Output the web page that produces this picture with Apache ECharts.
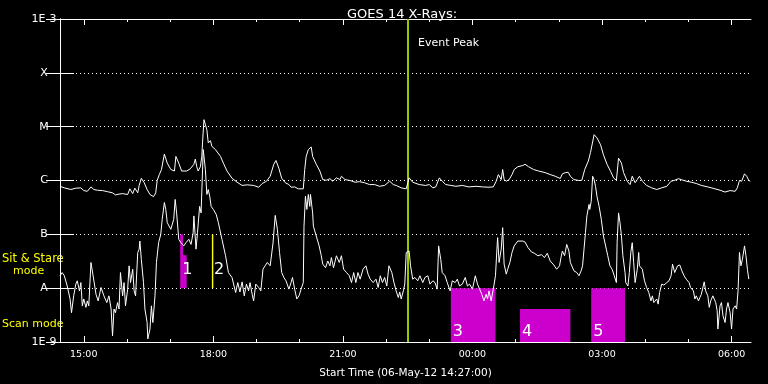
<!DOCTYPE html>
<html><head><meta charset="utf-8">
<script src="https://cdn.jsdelivr.net/npm/echarts@6/dist/echarts.min.js"></script>
<style>html,body{margin:0;padding:0;background:#000;}#c{width:768px;height:384px;}</style>
</head><body><div id="c"></div>
<script>
// ---------- data ----------
const startTime = '14:27';
const titleText = 'GOES 14 X-Rays:';
const axisName = 'Start Time (06-May-12 14:27:00)';
const hourTicks = ['15:00','16:00','17:00','18:00','19:00','20:00','21:00','22:00','23:00','00:00','01:00','02:00','03:00','04:00','05:00','06:00'];
const hourLabels = ['15:00','18:00','21:00','00:00','03:00','06:00'];
const levelValues = [1e-9,1e-8,1e-7,1e-6,1e-5,1e-4,1e-3];
const levelLabels = ['1E-9','A','B','C','M','X','1E-3'];

// GOES long channel (1-8 A)
const longTimes = ['14:27','14:33','14:42','14:49','14:56','15:00','15:05','15:10','15:14','15:19','15:26','15:33','15:40','15:44','15:49','15:54','15:56','16:01','16:04','16:08','16:11','16:15','16:17','16:20','16:24','16:28','16:32','16:37','16:40','16:42','16:45','16:48','16:52','16:56','17:01','17:06','17:08','17:12','17:16','17:23','17:28','17:33','17:35','17:37','17:39','17:42','17:44','17:45','17:47','17:51','17:53','17:56','17:58','18:03','18:10','18:14','18:19','18:26','18:33','18:40','18:47','18:56','19:03','19:08','19:14','19:19','19:24','19:27','19:31','19:35','19:40','19:45','19:48','19:53','19:58','20:05','20:07','20:09','20:12','20:14','20:16','20:18','20:23','20:28','20:32','20:37','20:42','20:46','20:51','20:56','20:58','21:03','21:10','21:17','21:23','21:30','21:37','21:44','21:51','21:58','22:05','22:10','22:14','22:21','22:28','22:32','22:37','22:46','22:55','23:00','23:05','23:09','23:14','23:18','23:23','23:30','23:37','23:46','23:55','00:05','00:14','00:23','00:29','00:33','00:36','00:40','00:42','00:44','00:47','00:51','00:55','00:58','01:03','01:10','01:13','01:18','01:25','01:32','01:41','01:48','01:55','02:02','02:05','02:09','02:13','02:16','02:21','02:28','02:32','02:36','02:41','02:44','02:46','02:49','02:53','02:58','03:02','03:07','03:12','03:16','03:20','03:23','03:27','03:30','03:35','03:39','03:42','03:46','03:49','03:52','03:56','04:02','04:09','04:16','04:23','04:30','04:36','04:41','04:46','04:50','04:57','05:04','05:11','05:18','05:27','05:37','05:44','05:51','05:58','06:05','06:08','06:11','06:14','06:18','06:21','06:24','06:26'];
const longFlux = [7.8e-7,7.3e-7,6.8e-7,7.2e-7,7.3e-7,6.5e-7,6.3e-7,7.6e-7,6.8e-7,6.6e-7,6.5e-7,6.2e-7,5.9e-7,5.4e-7,5.6e-7,5.7e-7,5.4e-7,5.5e-7,7.0e-7,5.7e-7,7.2e-7,5.9e-7,8.1e-7,1.1e-6,9.1e-7,6.8e-7,5.5e-7,5.0e-7,5.9e-7,1.0e-6,1.29e-6,1.6e-6,3.1e-6,2.1e-6,1.6e-6,1.5e-6,2.8e-6,2.1e-6,1.5e-6,1.5e-6,1.65e-6,2.0e-6,2.5e-6,1.8e-6,1.5e-6,1.8e-6,2.8e-6,5.0e-6,1.35e-5,8.8e-6,5.0e-6,5.5e-6,4.3e-6,3.75e-6,2.8e-6,2.1e-6,1.5e-6,1.1e-6,9.3e-7,8.1e-7,8.3e-7,8.1e-7,7.5e-7,8.8e-7,9.7e-7,1.2e-6,2.0e-6,2.35e-6,1.7e-6,1.1e-6,9.1e-7,8.4e-7,7.5e-7,7.6e-7,7.0e-7,7.0e-7,1.6e-6,2.8e-6,3.75e-6,4.0e-6,4.2e-6,2.8e-6,2.0e-6,1.5e-6,1.04e-6,1.01e-6,1.08e-6,9.7e-7,1.12e-6,1.04e-6,1.2e-6,1.04e-6,1.0e-6,9.3e-7,9.5e-7,9.1e-7,8.4e-7,8.4e-7,7.8e-7,8.1e-7,9.7e-7,8.4e-7,8.1e-7,7.3e-7,7.0e-7,1.12e-6,9.3e-7,8.4e-7,8.1e-7,8.4e-7,7.3e-7,7.6e-7,1.12e-6,9.7e-7,8.4e-7,8.1e-7,7.8e-7,8.1e-7,7.6e-7,7.8e-7,7.6e-7,7.5e-7,7.6e-7,9.7e-7,1.29e-6,1.04e-6,1.6e-6,1.04e-6,9.7e-7,1.04e-6,1.29e-6,1.6e-6,1.8e-6,1.9e-6,2.0e-6,1.8e-6,1.6e-6,1.5e-6,1.4e-6,1.29e-6,1.2e-6,1.09e-6,1.33e-6,1.4e-6,1.42e-6,1.2e-6,1.04e-6,1.0e-6,1.01e-6,1.6e-6,2.3e-6,3.3e-6,3.5e-6,7.1e-6,6.2e-6,4.6e-6,3.0e-6,2.0e-6,1.47e-6,1.12e-6,1.01e-6,2.6e-6,2.1e-6,1.4e-6,9.7e-7,8.4e-7,1.2e-6,9.1e-7,1.04e-6,1.2e-6,9.7e-7,8.1e-7,7.3e-7,6.8e-7,7.3e-7,7.8e-7,9.7e-7,1.01e-6,1.08e-6,1.04e-6,9.7e-7,9.3e-7,8.8e-7,8.1e-7,7.6e-7,7.0e-7,6.6e-7,6.1e-7,6.5e-7,6.3e-7,7.3e-7,1.0e-6,9.7e-7,1.33e-6,1.2e-6,1.0e-6,9.7e-7];

// GOES short channel (0.5-4 A)
const shortTimes = ['14:27','14:30','14:33','14:37','14:41','14:43','14:46','14:49','14:51','14:54','14:56','14:58','15:00','15:03','15:05','15:07','15:10','15:13','15:17','15:20','15:24','15:28','15:32','15:35','15:38','15:40','15:42','15:44','15:47','15:49','15:51','15:54','15:56','15:58','16:01','16:03','16:05','16:08','16:10','16:12','16:15','16:17','16:18','16:20','16:23','16:25','16:28','16:29','16:32','16:34','16:36','16:39','16:41','16:44','16:47','16:49','16:52','16:54','16:56','17:01','17:05','17:07','17:09','17:12','17:15','17:19','17:22','17:26','17:29','17:32','17:33','17:36','17:38','17:41','17:43','17:46','17:49','17:51','17:53','17:55','17:57','18:00','18:04','18:07','18:12','18:17','18:21','18:26','18:31','18:34','18:37','18:40','18:43','18:46','18:49','18:51','18:54','18:56','18:59','19:03','19:06','19:09','19:12','19:15','19:19','19:23','19:26','19:29','19:32','19:35','19:38','19:41','19:45','19:48','19:50','19:53','19:56','19:59','20:02','20:05','20:06','20:08','20:10','20:12','20:14','20:15','20:18','20:19','20:23','20:27','20:30','20:32','20:36','20:39','20:42','20:44','20:47','20:51','20:55','20:58','21:01','21:05','21:09','21:12','21:15','21:18','21:21','21:24','21:28','21:32','21:35','21:38','21:42','21:46','21:49','21:52','21:55','21:58','22:01','22:04','22:08','22:11','22:14','22:17','22:19','22:21','22:24','22:26','22:28','22:32','22:34','22:37','22:40','22:44','22:47','22:51','22:54','22:58','23:01','23:05','23:08','23:11','23:13','23:16','23:18','23:22','23:25','23:29','23:32','23:36','23:39','23:42','23:46','23:50','23:53','23:56','00:00','00:04','00:07','00:10','00:13','00:16','00:19','00:21','00:23','00:26','00:29','00:32','00:34','00:35','00:37','00:40','00:42','00:44','00:47','00:49','00:52','00:55','00:58','01:03','01:10','01:13','01:17','01:22','01:26','01:31','01:36','01:40','01:44','01:48','01:53','01:57','02:01','02:03','02:05','02:08','02:11','02:14','02:16','02:21','02:25','02:28','02:31','02:33','02:35','02:37','02:39','02:42','02:43','02:45','02:47','02:49','02:51','02:53','02:56','02:59','03:02','03:06','03:08','03:11','03:14','03:17','03:20','03:21','03:23','03:25','03:27','03:29','03:32','03:33','03:36','03:38','03:40','03:42','03:44','03:46','03:49','03:51','03:52','03:56','03:59','04:02','04:05','04:08','04:10','04:12','04:16','04:18','04:20','04:23','04:26','04:30','04:33','04:36','04:38','04:41','04:45','04:48','04:51','04:54','04:57','05:01','05:03','05:07','05:09','05:11','05:14','05:16','05:18','05:22','05:24','05:27','05:29','05:31','05:34','05:38','05:40','05:41','05:44','05:46','05:48','05:51','05:53','05:55','05:58','06:00','06:02','06:05','06:07','06:09','06:11','06:13','06:15','06:18','06:20','06:22','06:24'];
const shortFlux = [1.7e-8,1.95e-8,1.7e-8,1.1e-8,6.3e-9,3.5e-9,7.2e-9,1.19e-8,1.37e-8,8.9e-9,1.27e-8,4.7e-9,6.3e-9,4.4e-9,5.8e-9,4.7e-9,3.0e-8,1.7e-8,7.7e-9,5.8e-9,1.03e-8,7.2e-9,5.4e-9,7.2e-9,4.1e-9,1.3e-9,4.1e-9,3.5e-9,5.4e-9,4.1e-9,1.95e-8,7.2e-9,1.27e-8,4.7e-9,9.6e-9,2.6e-8,1.27e-8,2.25e-8,8.9e-9,7.2e-9,4.6e-8,5.3e-8,7.5e-8,3.4e-8,1.27e-8,4.1e-9,2.3e-9,1.14e-9,1.74e-9,4.7e-9,2.3e-9,7.2e-9,3.0e-8,7.0e-8,1.0e-7,1.9e-7,3.9e-7,2.9e-7,1.65e-7,1.24e-7,1.9e-7,4.45e-7,2.5e-7,8.1e-8,7.0e-8,6.1e-8,7.0e-8,8.1e-8,6.5e-8,1.07e-7,2.2e-7,5.3e-8,1.07e-7,3.3e-7,2.5e-7,3.75e-6,1.6e-6,5.5e-7,6.8e-7,5.1e-7,3.3e-7,2.9e-7,2.35e-7,1.65e-7,8.1e-8,4.0e-8,1.95e-8,1.58e-8,8.3e-9,1.27e-8,8.5e-9,1.31e-8,7.2e-9,1.19e-8,8.9e-9,1.27e-8,7.7e-9,5.8e-9,1.19e-8,1.03e-8,8.9e-9,2.25e-8,2.6e-8,3.0e-8,2.6e-8,7.0e-8,2.25e-7,1.24e-7,4.6e-8,1.95e-8,1.58e-8,1.37e-8,9.6e-9,1.27e-8,1.58e-8,9.6e-9,6.3e-9,7.2e-9,9.6e-9,1.27e-8,1.42e-7,5.1e-7,2.9e-7,5.5e-7,3.3e-7,5.5e-7,2.5e-7,1.42e-7,9.3e-8,6.1e-8,4.0e-8,2.8e-8,2.4e-8,3.2e-8,2.6e-8,3.7e-8,2.4e-8,4.0e-8,3.0e-8,4.0e-8,2.25e-8,1.95e-8,1.7e-8,1.27e-8,1.95e-8,1.27e-8,1.95e-8,1.47e-8,2.25e-8,2.6e-8,1.82e-8,1.47e-8,1.27e-8,1.47e-8,1.03e-8,1.7e-8,1.27e-8,1.58e-8,1.1e-8,2.6e-8,1.95e-8,1.27e-8,8.9e-9,6.7e-9,8.5e-9,6.3e-9,8.9e-9,1.19e-8,4.6e-8,4.9e-8,2.6e-8,1.47e-8,1.58e-8,1.37e-8,1.7e-8,1.27e-8,1.58e-8,1.7e-8,1.19e-8,1.37e-8,1.27e-8,9.6e-9,6.1e-8,3.4e-8,1.95e-8,1.7e-8,1.27e-8,8.9e-9,1.37e-8,1.27e-8,1.47e-8,1.1e-8,1.19e-8,1.58e-8,1.1e-8,1.19e-8,9.6e-9,1.7e-8,1.19e-8,9.6e-9,7.7e-9,5.8e-9,7.7e-9,6.3e-9,8.9e-9,5.8e-9,9.6e-9,1.7e-8,5.3e-8,8.7e-8,3.0e-8,5.3e-8,1.33e-7,2.8e-8,1.82e-8,2.25e-8,3.0e-8,4.6e-8,6.1e-8,7.5e-8,7.5e-8,7.2e-8,5.7e-8,4.7e-8,4.45e-8,4.0e-8,4.2e-8,3.7e-8,4.45e-8,3.2e-8,2.7e-8,2.25e-8,2.6e-8,3.7e-8,4.9e-8,4.0e-8,6.5e-8,4.9e-8,3.0e-8,2.1e-8,1.95e-8,1.7e-8,2.1e-8,2.6e-8,5.3e-8,1.07e-7,2.2e-7,3.6e-7,2.9e-7,4.1e-7,1.2e-6,1.04e-6,7.8e-7,5.1e-7,3.3e-7,1.9e-7,9.3e-8,5.3e-8,4.0e-8,2.6e-8,2.25e-8,1.7e-8,1.27e-8,7.0e-8,2.5e-7,1.65e-7,9.3e-8,4.0e-8,1.95e-8,1.27e-8,1.1e-8,1.95e-8,4.6e-8,7.0e-8,3.0e-8,1.27e-8,2.25e-8,4.6e-8,2.6e-8,2.25e-8,1.37e-8,1.03e-8,8.3e-9,5.8e-9,7.2e-9,5.4e-9,6.3e-9,5.05e-9,8.3e-9,1.19e-8,1.14e-8,1.27e-8,1.37e-8,1.7e-8,2.8e-8,1.95e-8,2.6e-8,2.7e-8,2.1e-8,1.7e-8,1.47e-8,1.27e-8,1.03e-8,8.9e-9,6.3e-9,7.2e-9,5.8e-9,6.7e-9,7.7e-9,1.31e-8,8.9e-9,7.2e-9,4.4e-9,5.8e-9,7.2e-9,5.4e-9,3.8e-9,1.74e-9,4.7e-9,5.4e-9,3.1e-9,2.3e-9,4.1e-9,5.4e-9,3.5e-9,1.74e-9,4.1e-9,4.7e-9,4.1e-9,8.9e-9,4.6e-8,2.6e-8,3.4e-8,6.1e-8,4.0e-8,2.25e-8,1.47e-8];

// instrument mode intervals
const modeLabels = ['1','','2','3','4','5'];
const modeStart = ['17:14','17:18','17:58','23:30','01:06','02:45'];
const modeEnd = ['17:18','17:23','18:00','00:32','02:16','03:32'];
const modeTop = [1e-7,4.1e-8,1e-7,1e-8,4.1e-9,1e-8];
const modeBottom = [1e-8,1e-8,1e-8,1e-9,1e-9,1e-9];
const modeColors = ['#cc00cc','#cc00cc','#ffff00','#cc00cc','#cc00cc','#cc00cc'];
const eventPeakTime = '22:30';
const eventPeakText = 'Event Peak';

// ---------- helpers ----------
const START = (function(){const p=startTime.split(':');return (+p[0])*60+(+p[1]);})();
function toMin(t){const p=t.split(':');let v=(+p[0])*60+(+p[1])-START;if(v<0)v+=1440;return v;}
function fmt(v){const t=((Math.round(v)+START)%1440+1440)%1440;const h=Math.floor(t/60),m=t%60;return String(h).padStart(2,'0')+':'+String(m).padStart(2,'0');}
function lvl(v){for(let i=0;i<levelValues.length;i++){if(Math.abs(Math.log10(levelValues[i])-Math.log10(v))<0.01)return levelLabels[i];}return '';}
const XMAX = 960;
const hourVals = hourTicks.map(toMin);
const labelVals = hourLabels.map(toMin);
const FONT = 'DejaVu Sans';
const W = '#ffffff';

const longData = longTimes.map((t,i)=>[toMin(t), longFlux[i]]);
const shortData = shortTimes.map((t,i)=>[toMin(t), shortFlux[i]]);

const areas = modeStart.map((s,i)=>{
  const small = i < 3;
  return [{
    xAxis: toMin(s), yAxis: modeTop[i],
    itemStyle: {color: modeColors[i], opacity: 1},
    label: {show: modeLabels[i] !== '', formatter: modeLabels[i], position: 'insideBottomLeft',
      distance: 2, offset: small ? [0, -8] : [0, 0], color: W, fontSize: 16, fontFamily: FONT}
  }, {xAxis: toMin(modeEnd[i]), yAxis: modeBottom[i]}];
});

function xAx(pos, len, vals, showLabel, showLine){
  return {type:'value', position: pos, min:0, max:XMAX,
    axisLine:{show:showLine, onZero:false, lineStyle:{color:W, width:1}},
    axisTick:{show:true, inside:true, length:len, customValues: vals, lineStyle:{color:W, width:1}},
    axisLabel:{show:showLabel, customValues: vals, formatter: fmt, color:W, fontSize:9.5, fontFamily:FONT, margin:8},
    splitLine:{show:false}, minorTick:{show:false}};
}
const xAxes = [xAx('bottom',6,labelVals,true,true), xAx('bottom',3,hourVals,false,false), xAx('top',6,labelVals,false,true), xAx('top',3,hourVals,false,false)];
xAxes[0].name = axisName; xAxes[0].nameLocation='middle'; xAxes[0].nameGap=26;
xAxes[0].nameTextStyle = {color:W, fontSize:10.5, fontFamily:FONT};

const chart = echarts.init(document.getElementById('c'), null, {renderer:'canvas'});
chart.setOption({
  backgroundColor:'#000000',
  animation:false,
  title:{text:titleText, left:342, top:3, textStyle:{color:W, fontSize:13, fontWeight:'normal', fontFamily:FONT}},
  grid:{left:60, right:17, top:19, bottom:41, containLabel:false},
  xAxis: xAxes,
  yAxis:[
    {type:'log', logBase:10, position:'left', min:1e-9, max:1e-3, interval:1,
      axisLine:{show:true, lineStyle:{color:W, width:1}},
      axisTick:{show:true, inside:true, length:14, lineStyle:{color:W, width:1}},
      axisLabel:{show:true, margin:3, formatter: v => '{l|' + lvl(v) + '}',
        rich:{l:{width:26, align:'center', color:W, fontSize:11, fontFamily:FONT}}},
      splitLine:{show:true, lineStyle:{color:W, width:1, type:[1,3]}}, minorTick:{show:false}},
    {type:'log', logBase:10, position:'right', min:1e-9, max:1e-3, interval:1,
      axisLine:{show:true, lineStyle:{color:W, width:1}},
      axisTick:{show:true, inside:true, length:14, lineStyle:{color:W, width:1}},
      axisLabel:{show:false}, splitLine:{show:false}}
  ],
  graphic:[
    {type:'text', x:2, y:259, style:{text:'Sit & Stare', fill:'#ffff00', font:'11.5px "DejaVu Sans"', verticalAlign:'middle'}},
    {type:'text', x:13, y:271, style:{text:'mode', fill:'#ffff00', font:'11px "DejaVu Sans"', verticalAlign:'middle'}},
    {type:'text', x:2, y:324, style:{text:'Scan mode', fill:'#ffff00', font:'11px "DejaVu Sans"', verticalAlign:'middle'}},
    {type:'text', x:418, y:43, style:{text:eventPeakText, fill:W, font:'11px "DejaVu Sans"', verticalAlign:'middle'}}
  ],
  series:[
    {type:'line', name:'modes', xAxisIndex:0, yAxisIndex:0, data:[], z:1, silent:true,
      markArea:{silent:true, data: areas}},
    {type:'line', name:'long', xAxisIndex:0, yAxisIndex:0, data:longData, showSymbol:false, symbol:'none',
      lineStyle:{color:W, width:1}, z:5},
    {type:'line', name:'short', xAxisIndex:0, yAxisIndex:0, data:shortData, showSymbol:false, symbol:'none',
      lineStyle:{color:W, width:1}, z:5},
    {type:'line', name:'event', xAxisIndex:0, yAxisIndex:0, data:[], z:8, silent:true,
      markLine:{silent:true, symbol:['none','none'], label:{show:false},
        lineStyle:{color:'#9ac800', width:2, type:'solid'},
        data:[{xAxis: toMin(eventPeakTime)}]}}
  ]
});
</script></body></html>
